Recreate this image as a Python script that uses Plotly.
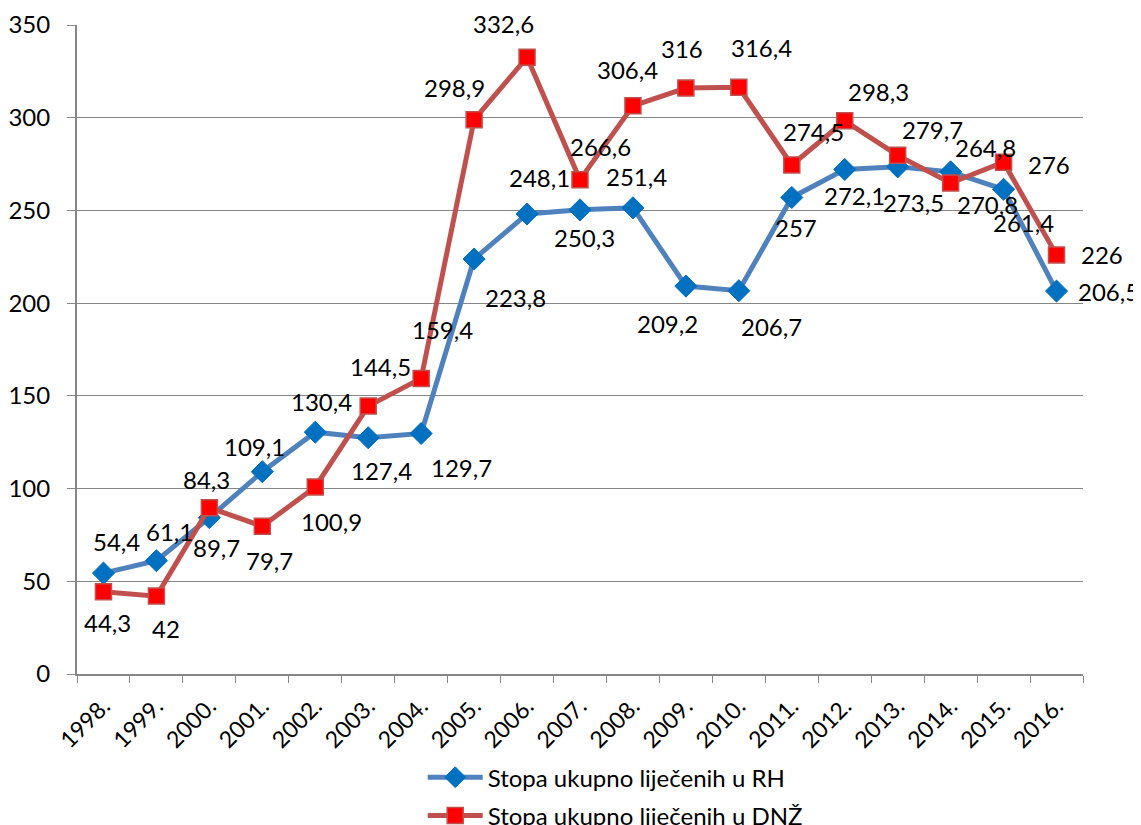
import plotly.graph_objects as go

years = ["1998.", "1999.", "2000.", "2001.", "2002.", "2003.", "2004.", "2005.", "2006.", "2007.",
         "2008.", "2009.", "2010.", "2011.", "2012.", "2013.", "2014.", "2015.", "2016."]
rh = [54.4, 61.1, 84.3, 109.1, 130.4, 127.4, 129.7, 223.8, 248.1, 250.3,
      251.4, 209.2, 206.7, 257, 272.1, 273.5, 270.8, 261.4, 206.5]
dnz = [44.3, 42, 89.7, 79.7, 100.9, 144.5, 159.4, 298.9, 332.6, 266.6,
       306.4, 316, 316.4, 274.5, 298.3, 279.7, 264.8, 276, 226]

# label offsets in pixels (dx, dy upward)
rh_off = [(13, 32), (13, 29), (-3, 38), (-8, 25), (6, 31), (13, -33), (40, -34), (41, -38),
          (12, 36), (4, -28), (4, 31), (-18, -37), (33, -36), (4, -30), (10, -26), (16, -36),
          (37, -33), (20, -33), (52, 0)]
dnz_off = [(4, -31), (10, -32), (7, -40), (7, -34), (16, -35), (12, 40), (21, 49), (-20, 32),
           (-24, 34), (20, 33), (-5, 36), (-4, 40), (23, 40), (22, 34), (34, 29), (35, 26),
           (35, 35), (45, -2), (45, 0)]

FONT = "Lato, 'Open Sans', sans-serif"
GRID = "#868686"

xpos = list(range(len(years)))

fig = go.Figure()

fig.add_trace(go.Scatter(
    x=xpos, y=rh, mode="lines+markers",
    name="Stopa ukupno liječenih u RH", legendgroup="rh",
    line=dict(color="#4F81BD", width=5),
    marker=dict(symbol="diamond", size=17, color="#0070C0", line=dict(color="#0070C0", width=1)),
))
fig.add_trace(go.Scatter(
    x=xpos, y=dnz, mode="lines+markers",
    name="Stopa ukupno liječenih u DNŽ", legendgroup="dnz",
    line=dict(color="#C0504D", width=5),
    marker=dict(symbol="square", size=16, color="#FF0000", line=dict(color="#C0504D", width=1.5)),
))

def fmt(v):
    return f"{v:g}".replace(".", ",")

for vals, offs in ((rh, rh_off), (dnz, dnz_off)):
    for x, v, (dx, dy) in zip(xpos, vals, offs):
        fig.add_annotation(x=x, y=v, text=fmt(v), showarrow=False,
                           xshift=dx, yshift=dy,
                           font=dict(family=FONT, size=24, color="black"))

# the page body adds an 8px offset, so the figure is 8px smaller and left/top margins shifted
fig.update_layout(
    width=1133, height=817,
    margin=dict(l=69, r=58, t=17, b=151, autoexpand=False),
    plot_bgcolor="white", paper_bgcolor="white",
    font=dict(family=FONT, size=24, color="black"),
    showlegend=True,
    legend=dict(orientation="v", x=0.535, xanchor="center", y=-0.125, yanchor="top",
                font=dict(family=FONT, size=24), itemwidth=55, tracegroupgap=4),
)
fig.update_xaxes(
    range=[-0.5, len(years) - 0.5], tickmode="array", tickvals=xpos, ticktext=years,
    tickangle=-45, ticks="", showline=True, linecolor=GRID, linewidth=1.5,
    showgrid=False, zeroline=False, automargin=False, ticklabelstandoff=8,
    tickfont=dict(family=FONT, size=23),
    minor=dict(tick0=-0.5, dtick=1, ticks="outside", ticklen=7, tickcolor=GRID, showgrid=False),
)
fig.update_yaxes(
    range=[0, 350], dtick=50, ticks="outside", ticklen=8, tickcolor=GRID,
    showline=True, linecolor=GRID, linewidth=1.5, automargin=False,
    showgrid=True, gridcolor=GRID, gridwidth=1.3, zeroline=False,
    ticksuffix="\u00a0\u00a0", tickfont=dict(family=FONT, size=24),
)

fig.write_html("out.html")
